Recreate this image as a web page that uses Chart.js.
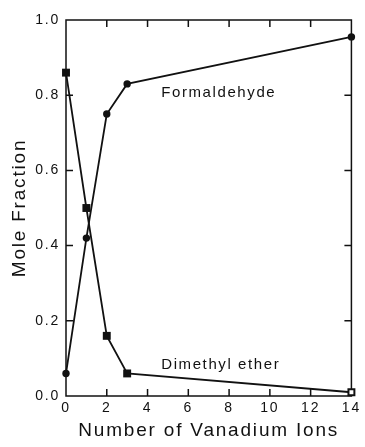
<!DOCTYPE html>
<html>
<head>
<meta charset="utf-8">
<script src="https://cdn.jsdelivr.net/npm/chart.js@4/dist/chart.umd.min.js"></script>
<style>
  html, body { margin: 0; padding: 0; background: #fff; }
  #wrap { width: 365px; height: 447px; }
</style>
</head>
<body>
<div id="wrap"><canvas id="moleChart"></canvas></div>
<script>
// === Data ===
const vanadiumIons = [0, 1, 2, 3, 14];
const formaldehyde = [0.06, 0.42, 0.75, 0.83, 0.955];
const dimethylEther = [0.86, 0.50, 0.16, 0.06, 0.01];
const yTickValues = [0, 0.2, 0.4, 0.6, 0.8, 1.0];

// curve labels, placed in data units (x, y of baseline start)
const curveLabels = ["Formaldehyde", "Dimethyl ether"];
const curveLabelX = [4.67, 4.67];
const curveLabelY = [0.795, 0.072];

const FONT = "'Liberation Sans', Arial, Helvetica, sans-serif";
const SPACING = "1.8px";

function toPoints(ys) {
  return vanadiumIons.map((x, i) => ({ x: x, y: ys[i] }));
}

// === Plugin: spaced lettering, frame, inward ticks, curve labels ===
const framePlugin = {
  id: "frame",
  beforeLayout(chart) {
    chart.ctx.letterSpacing = SPACING;
  },
  beforeDraw(chart) {
    chart.ctx.letterSpacing = SPACING;
  },
  beforeDatasetsDraw(chart) {
    const { ctx, chartArea: a, scales } = chart;
    const len = 7;
    ctx.save();
    ctx.strokeStyle = "#111";
    ctx.lineWidth = 1.5;
    ctx.strokeRect(a.left, a.top, a.right - a.left, a.bottom - a.top);
    ctx.beginPath();
    scales.x.ticks.forEach((t) => {
      if (t.value <= scales.x.min || t.value >= scales.x.max) return;
      const px = scales.x.getPixelForValue(t.value);
      ctx.moveTo(px, a.bottom);
      ctx.lineTo(px, a.bottom - len);
      ctx.moveTo(px, a.top);
      ctx.lineTo(px, a.top + len);
    });
    scales.y.ticks.forEach((t) => {
      if (t.value <= scales.y.min || t.value >= scales.y.max) return;
      const py = scales.y.getPixelForValue(t.value);
      ctx.moveTo(a.left, py);
      ctx.lineTo(a.left + len, py);
      ctx.moveTo(a.right, py);
      ctx.lineTo(a.right - len, py);
    });
    ctx.stroke();
    ctx.restore();
  },
  afterDraw(chart) {
    const { ctx, scales } = chart;
    ctx.save();
    ctx.letterSpacing = "1.6px";
    ctx.fillStyle = "#111";
    ctx.font = "15px " + FONT;
    ctx.textAlign = "left";
    ctx.textBaseline = "alphabetic";
    curveLabels.forEach((txt, i) => {
      ctx.fillText(
        txt,
        scales.x.getPixelForValue(curveLabelX[i]),
        scales.y.getPixelForValue(curveLabelY[i])
      );
    });
    ctx.restore();
  },
};

// === Chart ===
function renderChart() {
  new Chart(document.getElementById("moleChart"), {
    type: "scatter",
    data: {
      datasets: [
        {
          label: "Formaldehyde",
          data: toPoints(formaldehyde),
          showLine: true,
          borderColor: "#111",
          borderWidth: 1.8,
          pointStyle: "circle",
          pointRadius: 3.7,
          pointBackgroundColor: "#111",
          pointBorderWidth: 0,
          clip: false,
        },
        {
          label: "Dimethyl ether",
          data: toPoints(dimethylEther),
          showLine: true,
          borderColor: "#111",
          borderWidth: 1.8,
          pointStyle: "rect",
          pointRadius: [5.6, 5.6, 5.6, 5.6, 4.2],
          pointBackgroundColor: ["#111", "#111", "#111", "#111", "#fff"],
          pointBorderColor: "#111",
          pointBorderWidth: [0, 0, 0, 0, 2],
          clip: false,
        },
      ],
    },
    options: {
      responsive: true,
      maintainAspectRatio: false,
      animation: false,
      layout: { padding: { top: 20, right: 12, left: 0, bottom: 0 } },
      plugins: { legend: { display: false }, tooltip: { enabled: false } },
      scales: {
        x: {
          type: "linear",
          min: 0,
          max: 14,
          grid: { display: false, drawTicks: false },
          border: { display: false },
          ticks: {
            stepSize: 2,
            color: "#111",
            padding: 4,
            font: { family: FONT, size: 14 },
          },
          title: {
            display: true,
            text: "Number of Vanadium Ions",
            color: "#111",
            font: { family: FONT, size: 19 },
            padding: { top: 0, bottom: 5 },
          },
          afterFit(scale) {
            scale.height = 51;
          },
        },
        y: {
          type: "linear",
          min: 0,
          max: 1,
          grid: { display: false, drawTicks: false },
          border: { display: false },
          afterBuildTicks(scale) {
            scale.ticks = yTickValues.map((v) => ({ value: v }));
          },
          ticks: {
            color: "#111",
            padding: 6,
            font: { family: FONT, size: 14 },
            callback: (v) => Number(v).toFixed(1),
          },
          title: {
            display: true,
            text: "Mole Fraction",
            color: "#111",
            font: { family: FONT, size: 19 },
            padding: { top: 8, bottom: 0 },
          },
          afterFit(scale) {
            scale.width = 66;
          },
        },
      },
    },
    plugins: [framePlugin],
  });
}

document.addEventListener("DOMContentLoaded", renderChart);
</script>
</body>
</html>
